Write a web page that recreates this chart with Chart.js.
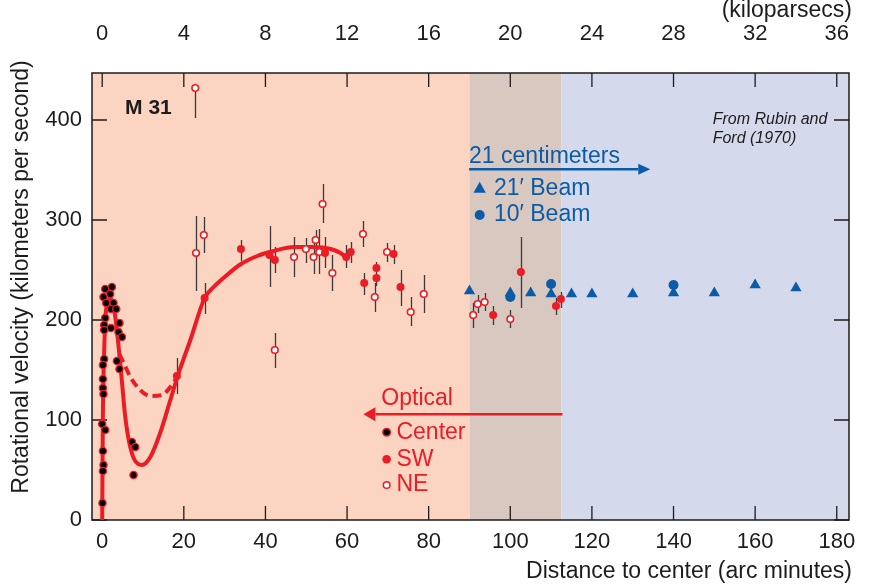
<!doctype html>
<html>
<head>
<meta charset="utf-8">
<title>M 31 rotation curve</title>
<script src="https://cdn.jsdelivr.net/npm/chart.js@4.4.1/dist/chart.umd.min.js"></script>
<style>
  html, body { margin: 0; padding: 0; background: #fff; }
</style>
</head>
<body>
<canvas id="canvas" width="869" height="584"></canvas>
<script>
// distance in arc minutes, rotational velocity in km/s
var centerX = [0.74, 2.38, 0.32, 1.96, 0.98, 2.77, 2.13, 3.44, 0.74, 0.49, 2.13, 0.49, 4.24, 4.0, 4.83,
               0.49, 0.17, 3.6, 4.24, 0.17, 0.17, 0.32, 0, 0.74, 0.17, 0.32, 0.17, 0.07, 7.29, 8.1, 7.68];
var centerV = [231, 233, 223, 226, 217, 217, 211, 211, 202, 195, 192, 190, 197, 188, 183,
               161, 155, 159, 151, 141, 132, 126, 96, 90, 69, 55, 49, 17, 78, 73, 45];

var swX  = [18.3, 25.1, 34.0, 41.0, 42.3, 54.6, 59.8, 60.9, 64.2, 67.2, 67.2, 71.4, 73.1, 95.8, 102.6, 111.2, 112.4];
var swV  = [144, 222, 271, 265, 260, 267, 263, 268, 237, 252, 242, 266, 233, 205, 248, 214, 221];
var swLo = [126, 206, 259, 233, 247, 252, 252, 257, 225, 245, 234, 256, 214, 195, 212, 205, 212];
var swHi = [162, 237, 280, 294, 273, 283, 275, 278, 247, 258, 247, 275, 250, 214, 283, 222, 228];

var neX  = [22.8, 23.0, 24.9, 42.3, 47.0, 49.9, 51.8, 52.3, 53.2, 54.0, 56.4, 63.9, 66.8, 69.8, 75.6, 78.8, 90.9, 92.0, 93.7, 100.0];
var neV  = [432, 267, 285, 170, 263, 271, 263, 280, 268, 316, 247, 286, 223, 268, 208, 226, 205, 216, 218, 201];
var neLo = [402, 229, 267, 152, 243, 257, 246, 268, 246, 297, 229, 273, 208, 258, 194, 207, 192, 207, 209, 192];
var neHi = [432, 304, 303, 187, 283, 282, 277, 290, 291, 336, 265, 299, 237, 277, 223, 245, 217, 225, 227, 210];

var beam21X = [90, 100, 105, 110, 115, 120, 130, 140, 150, 160, 170];
var beam21V = [229, 227, 227, 226, 226, 226, 226, 227, 227, 235, 232];
var beam10X = [100, 110, 140];
var beam10V = [223, 236, 235];

// hand-drawn fit through the optical points, and its dashed alternative
var fitX = [0, 0.16, 0.5, 0.8, 1.3, 2.0, 2.7, 3.3, 4.1, 4.8, 5.6, 6.5, 7.7, 9.7, 11.8, 14.2, 16.7, 18.5,
            21.6, 25.1, 27.3, 30.0, 34.0, 38.0, 42.0, 47.0, 52.0, 56.0, 58.4, 60.0];
var fitV = [0, 103, 170, 203, 217, 222, 215, 200, 170, 140, 105, 80, 62, 55, 63, 87, 120, 144,
            180, 222, 233, 243, 256, 264, 269, 273, 273, 271, 267, 262];
var dashX = [4.2, 5.5, 6.9, 9.3, 11.8, 14.6, 17.1, 18.5];
var dashV = [166, 155, 143, 130, 124, 125, 135, 144];

var arcTicks = [0, 20, 40, 60, 80, 100, 120, 140, 160, 180];
var kpcTicks = [0, 4, 8, 12, 16, 20, 24, 28, 32, 36];
var velTicks = [0, 100, 200, 300, 400];
var bandEdges = [90, 112.5];

var FONT = "'Liberation Sans', Arial, Helvetica, sans-serif";
var RED = '#EC1C24';
var BLUE = '#0B5CA8';
var INK = '#1E1B1C';

function pts(xs, ys) {
  return xs.map(function(v, i) { return {x: v, y: ys[i]}; });
}

function arrow(ctx, x1, x2, y, color, lw, hl, hw) {
  var dir = x2 > x1 ? 1 : -1;
  ctx.strokeStyle = color;
  ctx.fillStyle = color;
  ctx.lineWidth = lw;
  ctx.beginPath();
  ctx.moveTo(x1, y);
  ctx.lineTo(x2 - dir * hl, y);
  ctx.stroke();
  ctx.beginPath();
  ctx.moveTo(x2, y);
  ctx.lineTo(x2 - dir * hl, y - hw);
  ctx.lineTo(x2 - dir * hl, y + hw);
  ctx.closePath();
  ctx.fill();
}

var decor = {
  id: 'decor',
  beforeDraw: function(chart) {
    var ctx = chart.ctx, a = chart.chartArea, x = chart.scales.x;
    var e1 = x.getPixelForValue(bandEdges[0]);
    var e2 = x.getPixelForValue(bandEdges[1]);
    ctx.save();
    ctx.fillStyle = '#fff';
    ctx.fillRect(0, 0, chart.width, chart.height);
    ctx.fillStyle = '#FBD4C2';
    ctx.fillRect(a.left, a.top, e1 - a.left, a.bottom - a.top);
    ctx.fillStyle = '#D9C8C0';
    ctx.fillRect(e1, a.top, e2 - e1, a.bottom - a.top);
    ctx.fillStyle = '#D4DAEC';
    ctx.fillRect(e2, a.top, a.right - e2, a.bottom - a.top);
    ctx.restore();
  },
  beforeDatasetsDraw: function(chart) {
    var ctx = chart.ctx, a = chart.chartArea;
    var x = chart.scales.x, x2 = chart.scales.x2, y = chart.scales.y;
    ctx.save();
    // frame and inward ticks
    ctx.strokeStyle = INK;
    ctx.lineWidth = 1.5;
    ctx.strokeRect(a.left, a.top, a.right - a.left, a.bottom - a.top);
    ctx.lineWidth = 1.3;
    ctx.beginPath();
    x.ticks.forEach(function(t) {
      var p = x.getPixelForValue(t.value);
      ctx.moveTo(p, a.bottom); ctx.lineTo(p, a.bottom - 14);
    });
    x2.ticks.forEach(function(t) {
      var p = x2.getPixelForValue(t.value);
      ctx.moveTo(p, a.top); ctx.lineTo(p, a.top + 14);
    });
    y.ticks.forEach(function(t) {
      var p = y.getPixelForValue(t.value);
      ctx.moveTo(a.left, p); ctx.lineTo(a.left + 15, p);
      ctx.moveTo(a.right, p); ctx.lineTo(a.right - 15, p);
    });
    ctx.stroke();
    // error bars
    ctx.strokeStyle = '#3a3a3a';
    ctx.lineWidth = 1.3;
    ctx.beginPath();
    [[swX, swLo, swHi], [neX, neLo, neHi]].forEach(function(s) {
      s[0].forEach(function(v, i) {
        var p = Math.round(x.getPixelForValue(v)) + 0.5;
        ctx.moveTo(p, y.getPixelForValue(s[1][i]));
        ctx.lineTo(p, y.getPixelForValue(s[2][i]));
      });
    });
    ctx.stroke();
    ctx.restore();
  },
  afterDatasetsDraw: function(chart) {
    var ctx = chart.ctx;
    var x = chart.scales.x, y = chart.scales.y;
    function X(v) { return x.getPixelForValue(v); }
    function Y(v) { return y.getPixelForValue(v); }
    ctx.save();
    ctx.textBaseline = 'middle';
    ctx.textAlign = 'left';

    ctx.fillStyle = INK;
    ctx.font = 'bold 21px ' + FONT;
    ctx.fillText('M 31', X(5.6), Y(412));

    ctx.font = 'italic 16px ' + FONT;
    ctx.fillText('From Rubin and', X(149.6), Y(400.5));
    ctx.fillText('Ford (1970)', X(149.6), Y(381));

    // 21 cm block
    ctx.fillStyle = BLUE;
    ctx.font = '23px ' + FONT;
    ctx.fillText('21 centimeters', X(89.9), Y(363));
    arrow(ctx, X(89.9), X(134.3), Y(350.7), BLUE, 2.5, 12, 5.5);
    ctx.fillStyle = BLUE;
    var tx = X(92.5), ty = Y(331.7);
    ctx.beginPath();
    ctx.moveTo(tx, ty - 6.5); ctx.lineTo(tx + 6.2, ty + 4.5); ctx.lineTo(tx - 6.2, ty + 4.5);
    ctx.closePath(); ctx.fill();
    ctx.beginPath();
    ctx.arc(X(92.5), Y(305), 5, 0, Math.PI * 2);
    ctx.fill();
    ctx.fillText('21\u2032 Beam', X(96), Y(331.7));
    ctx.fillText('10\u2032 Beam', X(96), Y(305));

    // optical block
    ctx.fillStyle = RED;
    ctx.fillText('Optical', X(68.4), Y(121));
    arrow(ctx, X(112.8), X(64.0), Y(105.7), RED, 2.5, 12, 7);
    var mx = X(69.7);
    ctx.fillStyle = '#000'; ctx.strokeStyle = RED; ctx.lineWidth = 1.5;
    ctx.beginPath(); ctx.arc(mx, Y(87.7), 3.8, 0, Math.PI * 2); ctx.fill(); ctx.stroke();
    ctx.fillStyle = RED;
    ctx.beginPath(); ctx.arc(mx, Y(60.7), 4.3, 0, Math.PI * 2); ctx.fill();
    ctx.fillStyle = '#fff';
    ctx.beginPath(); ctx.arc(mx, Y(35), 3.3, 0, Math.PI * 2); ctx.fill(); ctx.stroke();
    ctx.fillStyle = RED;
    ctx.fillText('Center', X(72.1), Y(87.7));
    ctx.fillText('SW', X(72.1), Y(60.7));
    ctx.fillText('NE', X(72.1), Y(35));
    ctx.restore();
  },
  afterDraw: function(chart) {
    var ctx = chart.ctx;
    ctx.save();
    ctx.fillStyle = INK;
    ctx.font = '23px ' + FONT;
    ctx.textBaseline = 'middle';
    ctx.textAlign = 'right';
    ctx.fillText('(kiloparsecs)', 852, 11);
    ctx.fillText('Distance to center (arc minutes)', 852, 572);
    ctx.translate(22, 277);
    ctx.rotate(-Math.PI / 2);
    ctx.textAlign = 'center';
    ctx.fillText('Rotational velocity (kilometers per second)', 0, 0);
    ctx.restore();
  }
};

var tickFont = {family: FONT, size: 22};

function fixHeight(h) {
  return function(s) { s.height = h; s.paddingLeft = 0; s.paddingRight = 0; };
}

new Chart(document.getElementById('canvas'), {
  type: 'scatter',
  data: {
    datasets: [
      {
        label: 'Center', data: pts(centerX, centerV), order: 1,
        pointRadius: 3.6, pointBackgroundColor: '#000', pointBorderColor: RED, pointBorderWidth: 1.3
      },
      {
        label: 'SW', data: pts(swX, swV), order: 1,
        pointRadius: 4, pointBackgroundColor: RED, pointBorderColor: RED, pointBorderWidth: 0
      },
      {
        label: 'NE', data: pts(neX, neV), order: 1,
        pointRadius: 3.3, pointBackgroundColor: '#fff', pointBorderColor: RED, pointBorderWidth: 1.6
      },
      {
        label: "10' Beam", data: pts(beam10X, beam10V), order: 2,
        pointRadius: 5, pointBackgroundColor: BLUE, pointBorderWidth: 0
      },
      {
        label: "21' Beam", data: pts(beam21X, beam21V), order: 2, pointStyle: 'triangle',
        pointRadius: 6.5, pointBackgroundColor: BLUE, pointBorderWidth: 0
      },
      {
        label: 'fit', data: pts(fitX, fitV), order: 5, showLine: true,
        pointRadius: 0, borderColor: RED, borderWidth: 4, cubicInterpolationMode: 'monotone'
      },
      {
        label: 'fit (dashed)', data: pts(dashX, dashV), order: 5, showLine: true,
        pointRadius: 0, borderColor: RED, borderWidth: 4, borderDash: [9, 5],
        cubicInterpolationMode: 'monotone'
      }
    ]
  },
  options: {
    responsive: false,
    animation: false,
    devicePixelRatio: 1,
    layout: { padding: 0 },
    plugins: { legend: { display: false }, tooltip: { enabled: false } },
    scales: {
      x: {
        type: 'linear', position: 'bottom', min: -2.5, max: 183,
        afterBuildTicks: function(s) { s.ticks = arcTicks.map(function(v) { return {value: v}; }); },
        afterFit: fixHeight(64),
        grid: { display: false, drawTicks: false }, border: { display: false },
        ticks: { padding: 9, color: INK, font: tickFont, maxRotation: 0, autoSkip: false }
      },
      x2: {
        type: 'linear', position: 'top', min: -0.5, max: 36.6,
        afterBuildTicks: function(s) { s.ticks = kpcTicks.map(function(v) { return {value: v}; }); },
        afterFit: fixHeight(73),
        grid: { display: false, drawTicks: false }, border: { display: false },
        ticks: { padding: 26, color: INK, font: tickFont, maxRotation: 0, autoSkip: false }
      },
      y: {
        type: 'linear', position: 'left', min: 0, max: 447,
        afterBuildTicks: function(s) { s.ticks = velTicks.map(function(v) { return {value: v}; }); },
        afterFit: function(s) { s.width = 92; },
        grid: { display: false, drawTicks: false }, border: { display: false },
        ticks: { padding: 10, color: INK, font: tickFont }
      },
      y2: {
        type: 'linear', position: 'right', min: 0, max: 447,
        afterFit: function(s) { s.width = 20; },
        grid: { display: false, drawTicks: false }, border: { display: false },
        ticks: { display: false }
      }
    }
  },
  plugins: [decor]
});
</script>
</body>
</html>
